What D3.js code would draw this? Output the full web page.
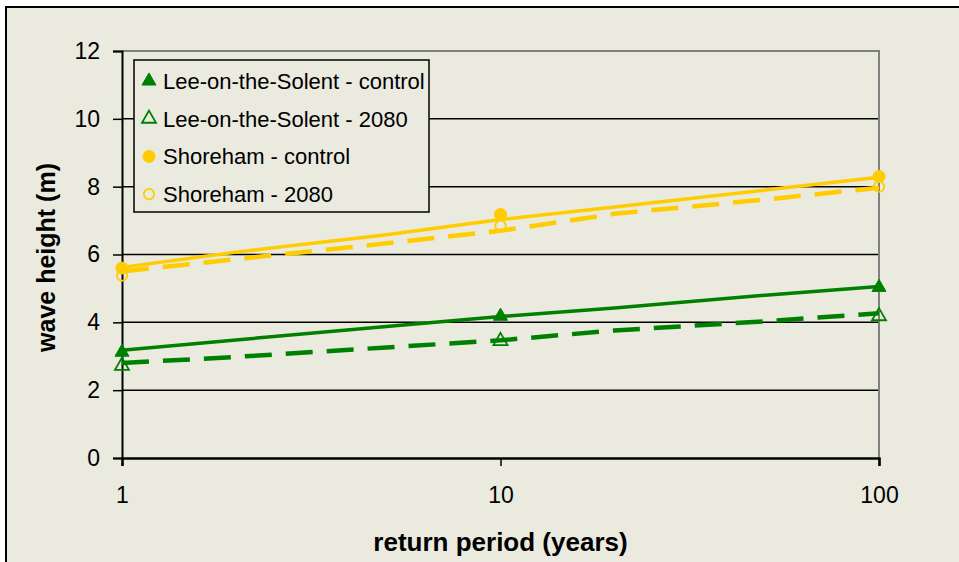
<!DOCTYPE html>
<html><head><meta charset="utf-8">
<script src="https://cdn.jsdelivr.net/npm/d3@7"></script>
<style>
html,body{margin:0;padding:0;background:#fff;}
svg{display:block;font-family:Arial,"Liberation Sans",sans-serif;}
</style></head>
<body>
<svg id="chart" width="959" height="562"></svg>
<script>
// Marker data (return periods in years, wave height in m)
const returnPeriods = [1, 10, 100];
const leeControl   = [3.12, 4.18, 5.03];
const lee2080      = [2.72, 3.45, 4.18];
const shoreControl = [5.60, 7.18, 8.30];
const shore2080    = [5.38, 6.85, 8.00];

// Fitted curves
const curvePeriods    = [1, 2, 5, 10, 20, 50, 100];
const leeControlFit   = [3.18, 3.48, 3.88, 4.17, 4.42, 4.80, 5.06];
const lee2080Fit      = [2.80, 2.98, 3.26, 3.47, 3.76, 4.03, 4.27];
const shoreControlFit = [5.62, 6.07, 6.58, 7.03, 7.40, 7.90, 8.28];
const shore2080Fit    = [5.50, 5.86, 6.33, 6.70, 7.20, 7.62, 7.97];

const yTicks = [0, 2, 4, 6, 8, 10, 12];
const xTicks = [1, 10, 100];
const legendLabels = ["Lee-on-the-Solent - control","Lee-on-the-Solent - 2080","Shoreham - control","Shoreham - 2080"];

const GREEN = "#008000", YELLOW = "#FFCC00", BG = "#EAEADF";

const series = [
  {name: legendLabels[0], vals: leeControl,   fit: leeControlFit,   color: GREEN,  shape: "tri",    filled: true,  dashed: false},
  {name: legendLabels[1], vals: lee2080,      fit: lee2080Fit,      color: GREEN,  shape: "tri",    filled: false, dashed: true},
  {name: legendLabels[2], vals: shoreControl, fit: shoreControlFit, color: YELLOW, shape: "circle", filled: true,  dashed: false},
  {name: legendLabels[3], vals: shore2080,    fit: shore2080Fit,    color: YELLOW, shape: "circle", filled: false, dashed: true}
];

const svg = d3.select("#chart");
// outer frame
svg.append("rect").attr("x",6).attr("y",7).attr("width",1000).attr("height",600)
  .attr("fill",BG).attr("stroke","#000").attr("stroke-width",2);

const m = {left:122, right:879, top:51, bottom:458};
const x = d3.scaleLog().domain([1,100]).range([m.left, m.right]);
const y = d3.scaleLinear().domain([0,12]).range([m.bottom, m.top]);

// gridlines
svg.append("g").selectAll("line").data(yTicks.filter(d=>d>0 && d<12)).join("line")
  .attr("x1",m.left).attr("x2",m.right).attr("y1",d=>y(d)).attr("y2",d=>y(d))
  .attr("stroke","#000").attr("stroke-width",1.5);
// plot border top/right (gray)
svg.append("path").attr("d",`M${m.left},${y(12)}H${m.right}V${m.bottom}`)
  .attr("fill","none").attr("stroke","#808080").attr("stroke-width",2);

// y axis
const yAxis = svg.append("g").attr("transform",`translate(${m.left},0)`)
  .call(d3.axisLeft(y).tickValues(yTicks).tickSize(9).tickPadding(13).tickFormat(d3.format("d")));
yAxis.select(".domain").attr("stroke","#000").attr("stroke-width",2);
yAxis.selectAll(".tick line").attr("stroke","#000").attr("stroke-width",1.5);
yAxis.selectAll("text").attr("font-size",23).attr("fill","#000").attr("font-family","Arial, Liberation Sans, sans-serif");

// x axis
const xAxis = svg.append("g").attr("transform",`translate(0,${m.bottom})`)
  .call(d3.axisBottom(x).tickValues(xTicks).tickSize(8).tickPadding(21).tickFormat(d3.format("d")));
xAxis.select(".domain").attr("stroke","#000").attr("stroke-width",2.5);
xAxis.selectAll(".tick line").attr("stroke","#000").attr("stroke-width",1.5);
xAxis.selectAll("text").attr("font-size",23).attr("fill","#000").attr("font-family","Arial, Liberation Sans, sans-serif");

// fitted lines
const line = d3.line().x((d,i)=>x(curvePeriods[i])).y(d=>y(d));
series.forEach(s=>{
  svg.append("path").datum(s.fit).attr("d",line)
    .attr("fill","none").attr("stroke",s.color)
    .attr("stroke-width", s.dashed ? 4.5 : 3.5)
    .attr("stroke-dasharray", s.dashed ? "27,14" : null);
});

// markers
const tri = d3.symbol().type(d3.symbolTriangle).size(85);
function drawMarker(g, s, cx, cy){
  if(s.shape==="tri"){
    g.append("path").attr("d",tri()).attr("transform",`translate(${cx},${cy})`)
      .attr("fill", s.filled ? s.color : "none").attr("stroke", s.color).attr("stroke-width", s.filled?1:1.8);
  } else {
    g.append("circle").attr("cx",cx).attr("cy",cy).attr("r", s.filled?6:5.2)
      .attr("fill", s.filled ? s.color : "none").attr("stroke", s.color).attr("stroke-width", s.filled?1:1.8);
  }
}
series.forEach(s=>{
  const g = svg.append("g");
  s.vals.forEach((v,i)=>drawMarker(g, s, x(returnPeriods[i]), y(v)));
});

// legend
const lg = svg.append("g");
lg.append("rect").attr("x",134).attr("y",60).attr("width",295).attr("height",152)
  .attr("fill",BG).attr("stroke","#000").attr("stroke-width",1.5);
series.forEach((s,i)=>{
  const cy = 81 + i*37.7;
  drawMarker(lg, s, 149, cy);
  lg.append("text").attr("x",163).attr("y",cy).attr("dy","0.36em")
    .attr("font-size",22).attr("fill","#000").text(s.name);
});

// axis titles
svg.append("text").attr("x",(m.left+m.right)/2).attr("y",551).attr("text-anchor","middle")
  .attr("font-size",26).attr("font-weight","bold").attr("fill","#000").text("return period (years)");
svg.append("text").attr("transform",`translate(55,${(m.top+m.bottom)/2+3}) rotate(-90)`)
  .attr("text-anchor","middle").attr("font-size",25).attr("font-weight","bold").attr("fill","#000").text("wave height (m)");
</script>
</body></html>
